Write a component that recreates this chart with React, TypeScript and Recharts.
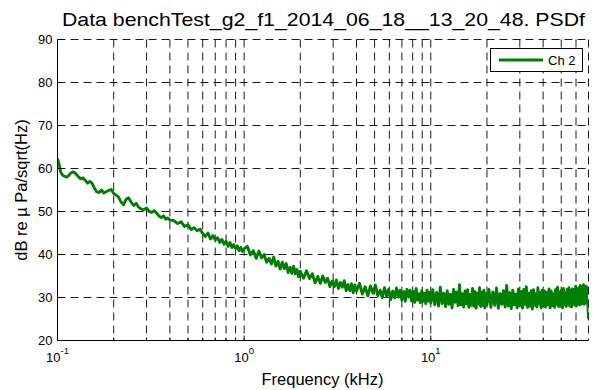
import React from 'react';
import { ComposedChart, Line, XAxis, YAxis, CartesianGrid } from 'recharts';

const FONT = '"Liberation Sans", Arial, Helvetica, sans-serif';

const chartTitle = 'Data benchTest_g2_f1_2014_06_18__13_20_48. PSDf';
const xLabel = 'Frequency (kHz)';
const yLabel = 'dB re \u00b5 Pa/sqrt(Hz)';
const seriesName = 'Ch 2';

const xMajorTicks = [0.1, 1, 10];
const xMajorExponents = ['-1', '0', '1'];
const xMinorTicks = [0.2, 0.3, 0.4, 0.5, 0.6, 0.7, 0.8, 0.9, 2, 3, 4, 5, 6, 7, 8, 9, 20, 30, 40, 50, 60];
const yTicks = [20, 30, 40, 50, 60, 70, 80, 90];
const xDomain = [0.1, 70];
const yDomain = [20, 90];

// [frequency kHz, dB]
const lowBand: [number, number][] = [
  [0.1, 62.3], [0.102, 61.0], [0.104, 59.2], [0.106, 58.5], [0.109, 58.2], [0.112, 58.0], [0.115, 58.4], [0.118, 59.0],
  [0.121, 59.2], [0.124, 59.0], [0.127, 58.5], [0.13, 58.0], [0.133, 57.6], [0.137, 57.8], [0.141, 57.2], [0.145, 56.6],
  [0.149, 57.0], [0.153, 56.6], [0.157, 55.6], [0.162, 54.6], [0.167, 54.4], [0.172, 55.0], [0.177, 54.3], [0.182, 54.6],
  [0.188, 54.9], [0.194, 55.1], [0.2, 54.2], [0.206, 53.8], [0.212, 53.4], [0.219, 52.2], [0.226, 51.6], [0.233, 52.8],
  [0.24, 53.2], [0.248, 52.2], [0.256, 51.4], [0.264, 51.9], [0.272, 51.0], [0.28, 50.6], [0.29, 50.4], [0.3, 50.8],
  [0.31, 50.0], [0.32, 49.8], [0.33, 50.2], [0.34, 49.6], [0.35, 48.9], [0.36, 48.6], [0.37, 49.0], [0.38, 48.2],
  [0.39, 48.5], [0.4, 48.0], [0.42, 47.9], [0.44, 47.2], [0.46, 47.6], [0.48, 46.5], [0.5, 46.9], [0.52, 45.8],
  [0.54, 46.2], [0.56, 45.5], [0.58, 45.9], [0.6, 44.9], [0.62, 44.2], [0.64, 45.0], [0.66, 43.6], [0.68, 44.4],
  [0.7, 43.4], [0.72, 43.9], [0.74, 42.8], [0.76, 43.5], [0.78, 42.4], [0.8, 43.1], [0.82, 41.9], [0.84, 42.8],
  [0.86, 41.6], [0.88, 42.3], [0.9, 41.4], [0.92, 42.0], [0.94, 40.9], [0.96, 41.6], [0.98, 40.7], [1.0, 41.3],
];

const midBand: [number, number][] = [
  [1.04, 41.9], [1.08, 39.9], [1.12, 40.9], [1.16, 39.1], [1.2, 40.8], [1.24, 39.2], [1.28, 40.0], [1.32, 38.2],
  [1.36, 39.1], [1.4, 37.8], [1.44, 39.4], [1.48, 37.3], [1.52, 38.4], [1.56, 36.6], [1.6, 38.2], [1.64, 36.7],
  [1.68, 37.9], [1.72, 35.8], [1.76, 37.0], [1.8, 35.6], [1.84, 37.3], [1.88, 35.5], [1.92, 36.5], [1.96, 34.8],
  [2.0, 36.1], [2.08, 34.5], [2.16, 36.2], [2.24, 34.4], [2.32, 35.5], [2.4, 33.4], [2.48, 34.9], [2.56, 33.3],
  [2.64, 35.0], [2.72, 33.5], [2.8, 34.5], [2.88, 32.5], [2.96, 33.8], [3.04, 32.5], [3.12, 34.1], [3.2, 32.1],
  [3.28, 33.5], [3.36, 32.4], [3.44, 33.9], [3.52, 31.6], [3.6, 33.0], [3.68, 31.6], [3.76, 33.2], [3.84, 31.1],
  [3.92, 32.9], [4.0, 31.5], [4.15, 33.3], [4.3, 30.8], [4.45, 32.5], [4.6, 30.4], [4.75, 32.7], [4.9, 31.0],
  [5.05, 32.9], [5.2, 30.4], [5.35, 31.7], [5.5, 30.0], [5.65, 32.3], [5.8, 30.3], [5.95, 31.9], [6.1, 29.5],
  [6.25, 31.5], [6.4, 29.9], [6.55, 32.2], [6.7, 30.1], [6.85, 31.7], [7.0, 29.4], [7.15, 31.4], [7.3, 29.1],
  [7.45, 31.9], [7.6, 30.1], [7.75, 31.7], [7.9, 29.2], [8.05, 31.4], [8.2, 28.9], [8.35, 32.1], [8.5, 29.4],
  [8.65, 30.9], [8.8, 28.8], [8.95, 31.6], [9.1, 29.1], [9.25, 31.0], [9.4, 28.6], [9.55, 31.7], [9.7, 29.2],
  [9.85, 31.2], [10.0, 28.7],
];

const highBand: [number, number][] = [
  [10.25, 31.8], [10.5, 28.3], [10.75, 31.2], [11, 28.0], [11.25, 32.4], [11.5, 28.6], [11.75, 31.0], [12, 27.9],
  [12.25, 31.6], [12.5, 28.4], [12.75, 30.8], [13, 27.6], [13.25, 31.9], [13.5, 28.9], [13.75, 31.3], [14, 28.1],
  [14.25, 33.0], [14.5, 28.3], [14.75, 30.9], [15, 27.8], [15.25, 31.5], [15.5, 28.6], [15.75, 31.8], [16, 27.7],
  [16.25, 30.7], [16.5, 28.2], [16.75, 32.1], [17, 28.0], [17.25, 31.4], [17.5, 27.5], [17.75, 31.0], [18, 28.5],
  [18.25, 32.3], [18.5, 27.9], [18.75, 31.2], [19, 28.1], [19.25, 31.7], [19.5, 27.6], [19.75, 30.9], [20, 28.3],
  [20.5, 31.9], [21, 27.7], [21.5, 31.3], [22, 28.2], [22.5, 32.2], [23, 27.5], [23.5, 30.9], [24, 28.4],
  [24.5, 31.6], [25, 27.8], [25.5, 32.8], [26, 28.0], [26.5, 31.1], [27, 27.4], [27.5, 31.7], [28, 28.3],
  [28.5, 30.8], [29, 27.6], [29.5, 32.0], [30, 28.1], [30.5, 31.4], [31, 27.5], [31.5, 31.9], [32, 28.4],
  [32.5, 32.5], [33, 27.7], [33.5, 31.0], [34, 28.0], [34.5, 31.6], [35, 27.3], [35.5, 31.8], [36, 28.2],
  [36.5, 30.9], [37, 27.8], [37.5, 32.3], [38, 28.5], [38.5, 31.2], [39, 27.6], [39.5, 31.7], [40, 28.0],
  [40.6, 31.6], [41.2, 27.8], [41.8, 31.2], [42.4, 28.3], [43, 32.0], [43.6, 27.6], [44.2, 31.5], [44.8, 28.1],
  [45.4, 30.9], [46, 27.7], [46.6, 31.8], [47.2, 28.4], [47.8, 32.4], [48.4, 27.9], [49, 31.3], [49.6, 28.0],
  [50.2, 31.7], [50.8, 27.6], [51.4, 32.1], [52, 28.3], [52.6, 31.2], [53.2, 27.9], [53.8, 31.9], [54.4, 28.4],
  [55, 32.3], [55.6, 28.0], [56.2, 31.6], [56.8, 27.8], [57.4, 32.0], [58, 28.5], [58.6, 31.8], [59.2, 28.2],
  [59.8, 32.6], [60.4, 28.1], [61, 31.9], [61.6, 28.6], [62.2, 32.3], [62.8, 28.3], [63.4, 32.8], [64, 28.5],
  [64.6, 32.0], [65.2, 28.7], [65.8, 33.0], [66.4, 28.4], [67, 32.4], [67.6, 28.8], [68.2, 32.6], [68.8, 28.6],
  [69.4, 29.0], [70, 25.0],
];

const data = [...lowBand, ...midBand, ...highBand].map(([f, db]) => ({ f, db }));
const allXTicks = [...xMajorTicks, ...xMinorTicks].sort((a, b) => a - b);

const BottomTick = (props: any) => {
  const { x, y, payload } = props;
  const v = payload.value;
  const mi = xMajorTicks.indexOf(v);
  const len = mi >= 0 ? 5 : 3;
  return (
    <g>
      <line x1={x} y1={y} x2={x} y2={y - len} stroke="#000" strokeWidth={1} />
      {mi >= 0 && (
        <text x={x} y={y + 21} textAnchor="middle" fontFamily={FONT} fontSize={13} fill="#000">
          10
          <tspan dy={-8} fontSize={9.5}>{xMajorExponents[mi]}</tspan>
        </text>
      )}
    </g>
  );
};

const TopTick = (props: any) => {
  const { x, y, payload } = props;
  const len = xMajorTicks.indexOf(payload.value) >= 0 ? 5 : 3;
  return <line x1={x} y1={y} x2={x} y2={y + len} stroke="#000" strokeWidth={1} />;
};

const LeftTick = (props: any) => {
  const { x, y, payload } = props;
  return (
    <g>
      <line x1={x} y1={y} x2={x + 5} y2={y} stroke="#000" strokeWidth={1} />
      <text x={x - 5} y={y + 4.5} textAnchor="end" fontFamily={FONT} fontSize={13} fill="#000">
        {payload.value}
      </text>
    </g>
  );
};

const RightTick = (props: any) => {
  const { x, y } = props;
  return <line x1={x} y1={y} x2={x - 5} y2={y} stroke="#000" strokeWidth={1} />;
};

export default function App() {
  return (
    <div style={{ position: 'absolute', left: 0, top: 0, width: 593, height: 390, background: '#fff' }}>
      <ComposedChart
        width={593}
        height={390}
        data={data}
        margin={{ top: 39.5, right: 4.5, bottom: 0, left: 0 }}
      >
        <CartesianGrid stroke="#000" strokeWidth={0.9} strokeDasharray="8 5" />
        <XAxis
          dataKey="f"
          type="number"
          scale="log"
          domain={xDomain}
          allowDataOverflow
          ticks={allXTicks}
          interval={0}
          height={49.5}
          tickSize={0}
          tickMargin={0}
          tick={<BottomTick />}
          axisLine={{ stroke: '#000' }}
          tickLine={false}
        />
        <XAxis
          xAxisId="top"
          orientation="top"
          dataKey="f"
          type="number"
          scale="log"
          domain={xDomain}
          allowDataOverflow
          ticks={allXTicks}
          interval={0}
          height={0}
          tickSize={0}
          tickMargin={0}
          tick={<TopTick />}
          axisLine={{ stroke: '#000' }}
          tickLine={false}
        />
        <YAxis
          type="number"
          domain={yDomain}
          ticks={yTicks}
          interval={0}
          width={57.5}
          tickSize={0}
          tickMargin={0}
          tick={<LeftTick />}
          axisLine={{ stroke: '#000' }}
          tickLine={false}
        />
        <YAxis
          yAxisId="right"
          orientation="right"
          type="number"
          domain={yDomain}
          ticks={yTicks}
          interval={0}
          width={0}
          tickSize={0}
          tickMargin={0}
          tick={<RightTick />}
          axisLine={{ stroke: '#000' }}
          tickLine={false}
        />
        <Line
          type="linear"
          dataKey="db"
          name={seriesName}
          stroke="#008000"
          strokeWidth={2.9}
          strokeLinejoin="round"
          dot={false}
          activeDot={false}
          isAnimationActive={false}
        />
      </ComposedChart>
      <svg
        width={593}
        height={390}
        style={{ position: 'absolute', left: 0, top: 0, pointerEvents: 'none' }}
      >
        <text x={323.5} y={26} textAnchor="middle" fontFamily={FONT} fontSize={18.5} fill="#000" textLength={523} lengthAdjust="spacingAndGlyphs">
          {chartTitle}
        </text>
        <text x={322.5} y={385} textAnchor="middle" fontFamily={FONT} fontSize={16.5} fill="#000">
          {xLabel}
        </text>
        <text
          x={0}
          y={0}
          transform="translate(27,190) rotate(-90)"
          textAnchor="middle"
          fontFamily={FONT}
          fontSize={16.5}
          fill="#000"
        >
          {yLabel}
        </text>
        <g>
          <rect x={490.5} y={48.5} width={92} height={23} fill="#fff" stroke="#000" strokeWidth={1} />
          <line x1={499} y1={60} x2={543} y2={60} stroke="#008000" strokeWidth={3} />
          <text x={548} y={64.5} fontFamily={FONT} fontSize={13} fill="#000">
            {seriesName}
          </text>
        </g>
      </svg>
    </div>
  );
}
